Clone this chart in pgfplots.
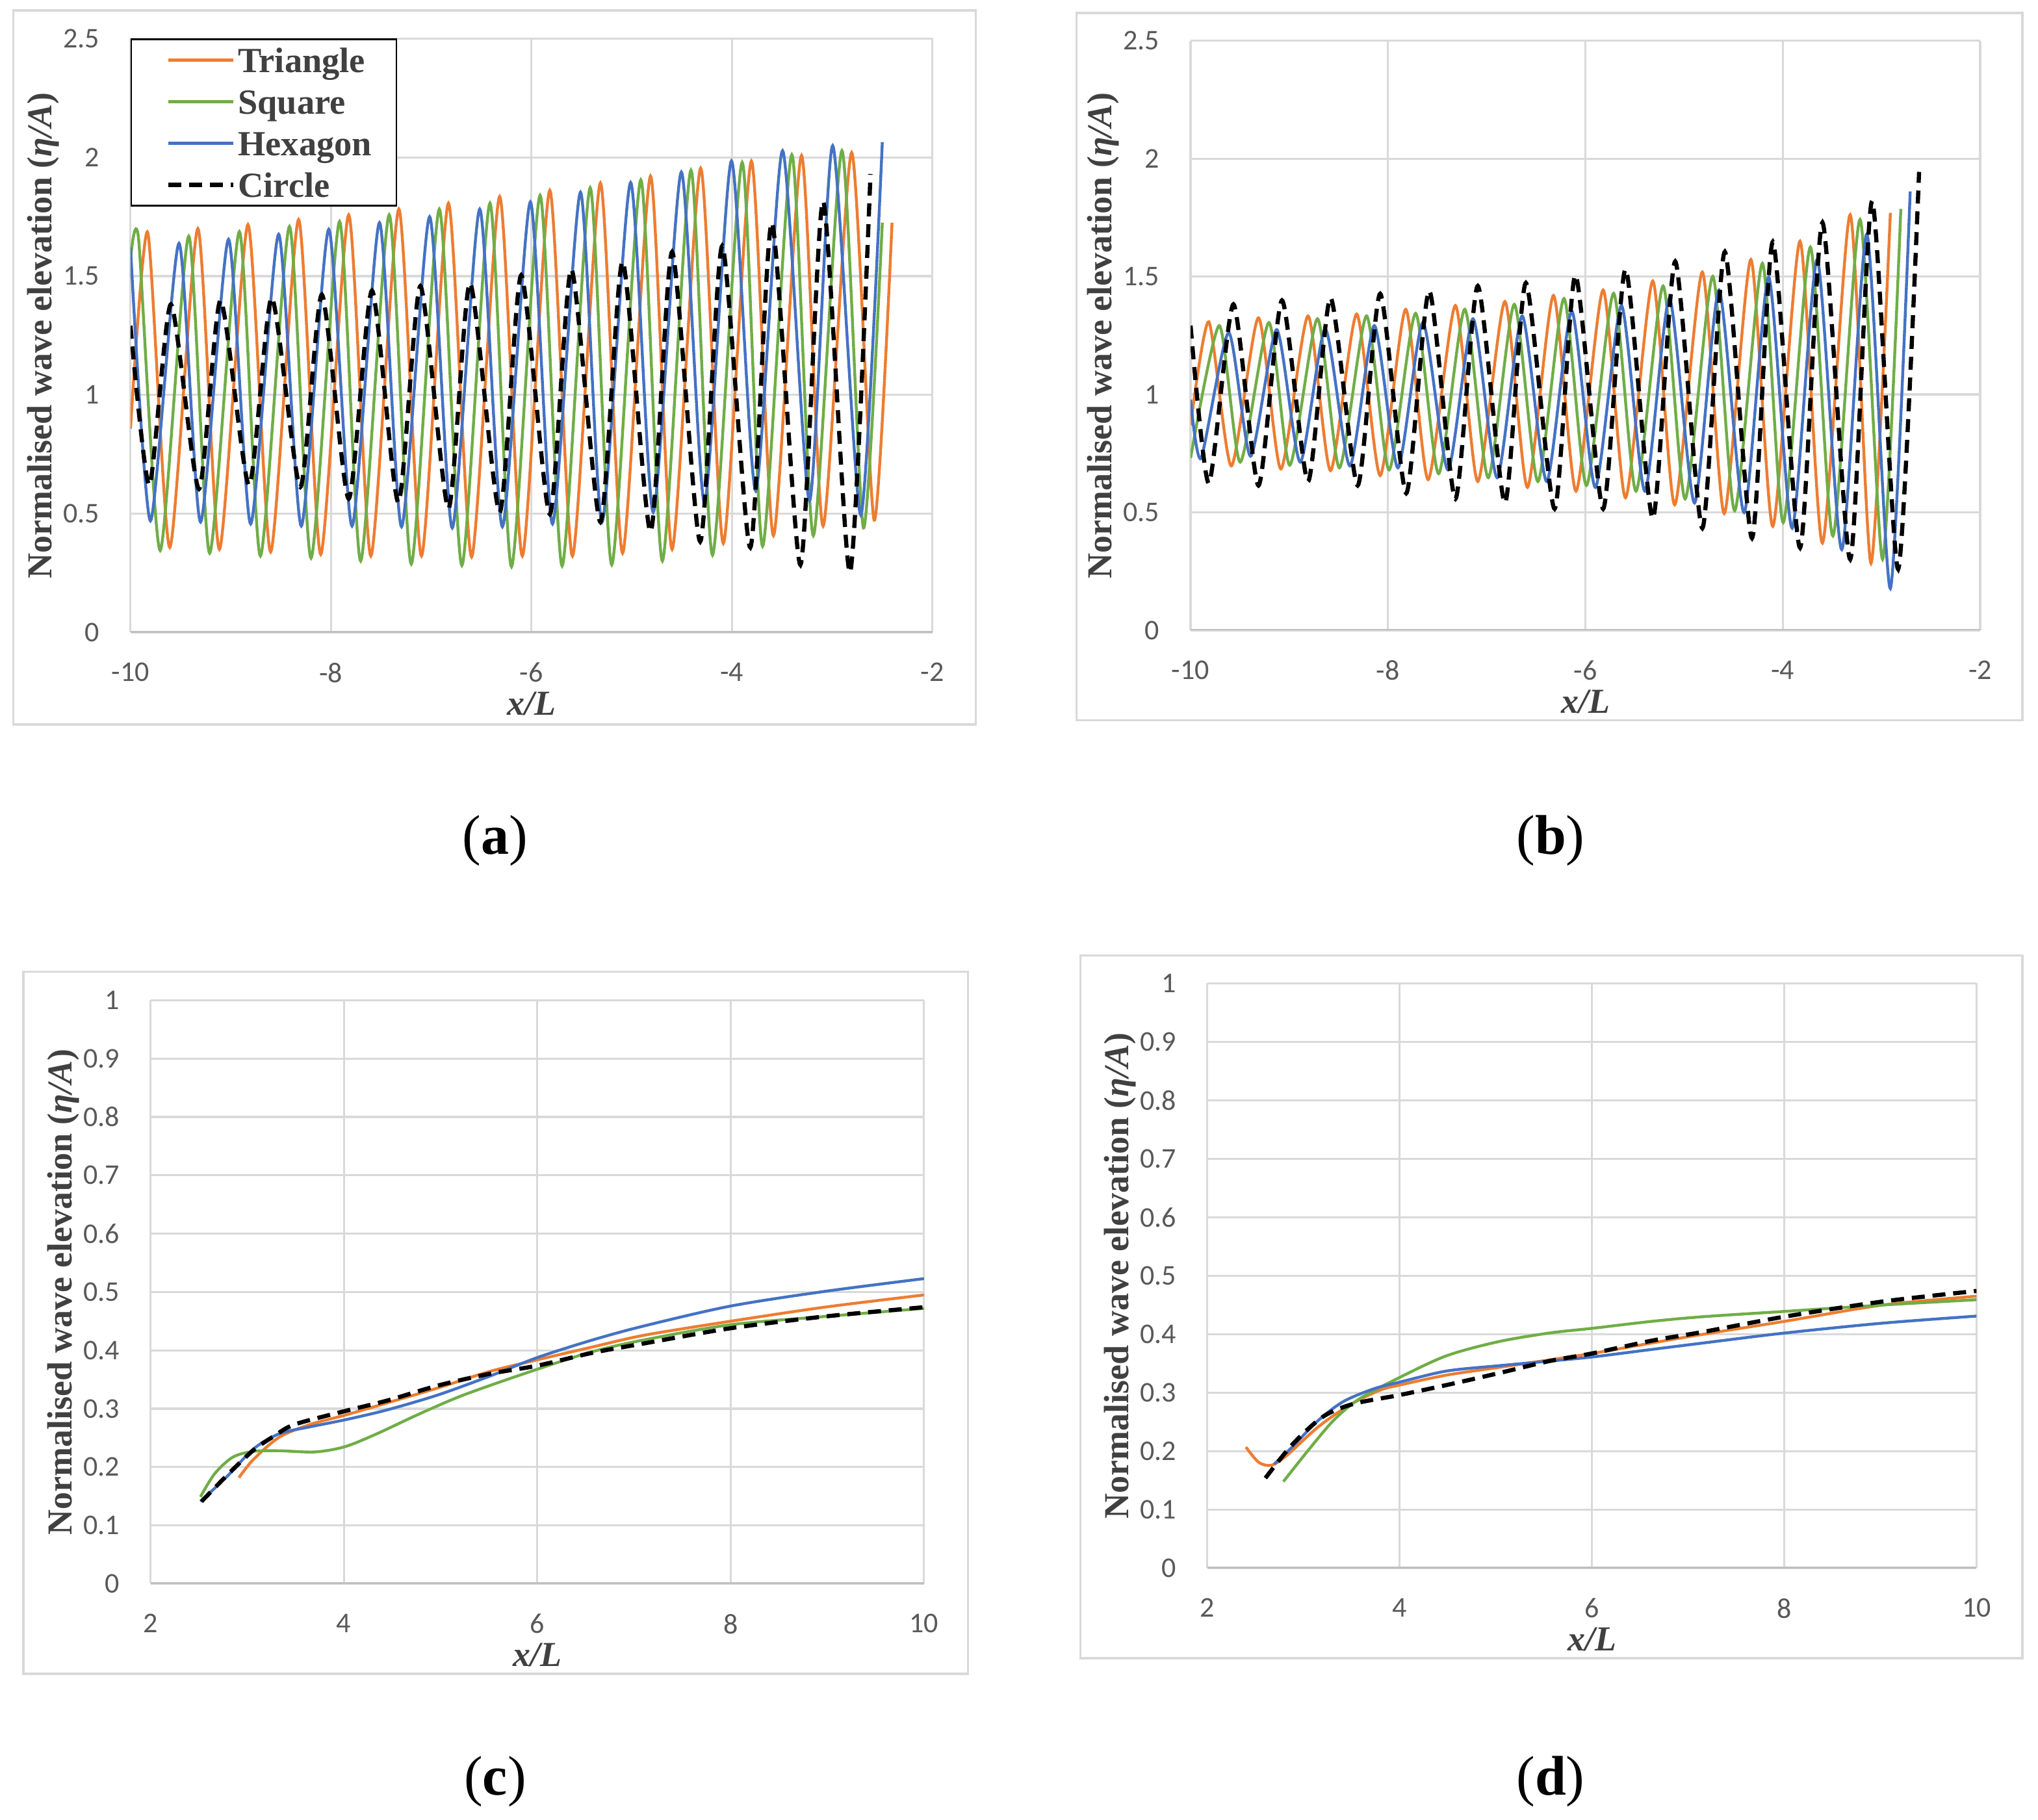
\documentclass[border=0pt]{standalone}
\usepackage{fontspec}
\setmainfont{Liberation Serif}
\newfontfamily\carlito{Carlito}
\usepackage{pgfplots}
\pgfplotsset{compat=1.18}
\definecolor{tri}{HTML}{ED7D31}
\definecolor{sq}{HTML}{70AD47}
\definecolor{hex}{HTML}{4472C4}
\definecolor{gridgray}{HTML}{D9D9D9}
\definecolor{axisgray}{HTML}{BFBFBF}
\definecolor{tickgray}{HTML}{595959}
\definecolor{labelgray}{HTML}{404040}
\pgfplotsset{
  panel/.style={
    scale only axis, anchor=south west, enlargelimits=false,
    grid=major, grid style={draw=gridgray, line width=0.8pt},
    axis line style={draw=none},
    major tick length=0pt,
    tick label style={font=\carlito\fontsize{11}{13}\selectfont, text=tickgray},
    xticklabel={\pgfmathprintnumber[assume math mode=true]{\tick}},
    yticklabel={\pgfmathprintnumber[assume math mode=true]{\tick}},
    yticklabel style={inner sep=0pt, anchor=east, xshift=-11.75pt},
    xticklabel style={inner sep=0pt, anchor=north, yshift=-11.5pt},
    xlabel={\textbf{\textit{x/L}}},
    ylabel={\textbf{Normalised wave elevation (\textit{η/A})}},
    label style={font=\fontsize{13.5}{15}\selectfont, text=labelgray},
    xlabel style={at={(axis description cs:0.5,0)}, anchor=north, inner sep=0pt, yshift=-22.75pt},
    ylabel style={at={(axis description cs:0,0.5)}, anchor=center, inner sep=0pt, yshift=33.5pt},
  },
  tris/.style={color=tri, line width=1.1pt, smooth},
  sqs/.style={color=sq, line width=1.1pt, smooth},
  hexs/.style={color=hex, line width=1.1pt, smooth},
  circs/.style={color=black, line width=1.6pt, dash pattern=on 5pt off 3pt, smooth},
}
\begin{document}
\begin{tikzpicture}
\path[use as bounding box] (0pt,0pt) rectangle (784pt,700.25pt);
% frames
\draw[gridgray, line width=0.85pt] (5.1pt,421.5pt) rectangle (375.35pt,696.25pt);
\draw[gridgray, line width=0.85pt] (414.15pt,423.15pt) rectangle (778pt,695.25pt);
\draw[gridgray, line width=0.85pt] (9pt,56.25pt) rectangle (372.35pt,326.35pt);
\draw[gridgray, line width=0.85pt] (415.65pt,62.25pt) rectangle (778pt,332.6pt);
% captions
\node[font=\fontsize{21.5}{24}\selectfont] at (190.5pt,376.75pt) {(\textbf{a})};
\node[font=\fontsize{21.5}{24}\selectfont] at (596.5pt,376.75pt) {(\textbf{b})};
\node[font=\fontsize{21.5}{24}\selectfont] at (190.5pt,14.75pt) {(\textbf{c})};
\node[font=\fontsize{21.5}{24}\selectfont] at (596.5pt,14.75pt) {(\textbf{d})};

% ---------------- (a)
\begin{axis}[panel, at={(50.2pt,456.9pt)}, width=308.5pt, height=228.5pt,
  xmin=-10, xmax=-2, ymin=0, ymax=2.5,
  xtick={-10,-8,-6,-4,-2}, ytick={0,0.5,1,1.5,2,2.5},
  legend cell align=left,
  legend style={at={(0,1)}, anchor=north west, draw=black, line width=0.65pt, fill=white,
    font=\bfseries\fontsize{13.6}{15}\selectfont, text=labelgray,
    inner xsep=8.5pt, inner ysep=0pt, row sep=0pt,
    nodes={inner xsep=1pt, inner ysep=1.75pt, text height=11pt, text depth=1.5pt}},
  legend image code/.code={\path (0pt,0pt); \draw[#1] (5pt,0pt) -- (30pt,0pt);},
  every axis plot/.append style={tension=0.4}]
\draw[axisgray, line width=1pt] (rel axis cs:0,0) -- (rel axis cs:1,0);
\addplot[tris] coordinates {(-10,0.858) (-9.828,1.684) (-9.608,0.358) (-9.328,1.700) (-9.113,0.350) (-8.828,1.717) (-8.602,0.339) (-8.323,1.738) (-8.102,0.329) (-7.823,1.758) (-7.602,0.322) (-7.323,1.782) (-7.097,0.322) (-6.828,1.807) (-6.597,0.318) (-6.317,1.835) (-6.091,0.322) (-5.817,1.861) (-5.591,0.322) (-5.312,1.892) (-5.091,0.334) (-4.812,1.921) (-4.597,0.350) (-4.312,1.954) (-4.086,0.375) (-3.806,1.984) (-3.586,0.408) (-3.306,2.008) (-3.091,0.448) (-2.806,2.020) (-2.581,0.473) (-2.403,1.725)};
\addlegendentry{Triangle}
\addplot[sqs] coordinates {(-10,1.57) (-9.919,1.655) (-9.704,0.345) (-9.419,1.668) (-9.210,0.334) (-8.914,1.687) (-8.704,0.322) (-8.414,1.709) (-8.199,0.313) (-7.914,1.730) (-7.704,0.301) (-7.419,1.758) (-7.199,0.288) (-6.919,1.782) (-6.694,0.282) (-6.414,1.807) (-6.199,0.277) (-5.914,1.840) (-5.694,0.280) (-5.414,1.872) (-5.199,0.285) (-4.909,1.905) (-4.694,0.301) (-4.409,1.946) (-4.194,0.326) (-3.898,1.979) (-3.694,0.363) (-3.403,2.011) (-3.188,0.408) (-2.903,2.028) (-2.688,0.440) (-2.500,1.725)};
\addlegendentry{Square}
\addplot[hexs] coordinates {(-10,1.62) (-9.801,0.470) (-9.516,1.638) (-9.301,0.465) (-9.022,1.655) (-8.801,0.457) (-8.522,1.676) (-8.296,0.448) (-8.022,1.697) (-7.790,0.448) (-7.516,1.725) (-7.296,0.445) (-7.016,1.750) (-6.790,0.440) (-6.516,1.782) (-6.290,0.445) (-6.011,1.812) (-5.790,0.457) (-5.511,1.853) (-5.296,0.465) (-5.011,1.894) (-4.785,0.506) (-4.505,1.938) (-4.274,0.547) (-4.005,1.985) (-3.763,0.596) (-3.495,2.028) (-3.226,0.555) (-2.995,2.049) (-2.715,0.494) (-2.500,2.064)};
\addlegendentry{Hexagon}
\addplot[circs] coordinates {(-10,1.291) (-9.812,0.620) (-9.597,1.381) (-9.317,0.604) (-9.102,1.398) (-8.817,0.620) (-8.591,1.409) (-8.306,0.612) (-8.091,1.422) (-7.823,0.563) (-7.591,1.439) (-7.328,0.547) (-7.108,1.458) (-6.828,0.522) (-6.613,1.471) (-6.317,0.506) (-6.102,1.504) (-5.817,0.498) (-5.602,1.529) (-5.312,0.465) (-5.091,1.561) (-4.812,0.424) (-4.597,1.602) (-4.317,0.383) (-4.097,1.627) (-3.817,0.358) (-3.602,1.725) (-3.317,0.285) (-3.091,1.815) (-2.823,0.252) (-2.618,1.930)};
\addlegendentry{Circle}
\end{axis}

% ---------------- (b)
\begin{axis}[panel, at={(458pt,457.75pt)}, width=303.75pt, height=226.8pt,
  xmin=-10, xmax=-2, ymin=0, ymax=2.5,
  xtick={-10,-8,-6,-4,-2}, ytick={0,0.5,1,1.5,2,2.5},
  every axis plot/.append style={tension=0.4}]
\draw[axisgray, line width=1pt] (rel axis cs:0,0) -- (rel axis cs:1,0);
\addplot[tris] coordinates {(-10,0.870) (-9.815,1.308) (-9.587,0.697) (-9.312,1.325) (-9.085,0.684) (-8.810,1.333) (-8.582,0.677) (-8.317,1.341) (-8.079,0.656) (-7.820,1.361) (-7.593,0.639) (-7.317,1.377) (-7.090,0.631) (-6.815,1.394) (-6.587,0.606) (-6.323,1.420) (-6.095,0.590) (-5.820,1.443) (-5.593,0.562) (-5.317,1.481) (-5.095,0.532) (-4.815,1.519) (-4.593,0.495) (-4.323,1.572) (-4.101,0.441) (-3.825,1.650) (-3.598,0.370) (-3.317,1.762) (-3.106,0.284) (-2.910,1.770)};
\addplot[sqs] coordinates {(-10,0.730) (-9.709,1.292) (-9.497,0.713) (-9.206,1.305) (-8.995,0.700) (-8.714,1.321) (-8.492,0.689) (-8.217,1.333) (-7.989,0.680) (-7.720,1.344) (-7.487,0.664) (-7.222,1.361) (-6.984,0.647) (-6.720,1.382) (-6.481,0.631) (-6.217,1.407) (-5.989,0.614) (-5.714,1.429) (-5.487,0.590) (-5.212,1.460) (-4.989,0.557) (-4.709,1.501) (-4.487,0.507) (-4.206,1.556) (-3.995,0.457) (-3.720,1.625) (-3.492,0.400) (-3.217,1.742) (-2.989,0.301) (-2.804,1.787)};
\addplot[hexs] coordinates {(-10,0.978) (-9.894,0.730) (-9.614,1.262) (-9.392,0.738) (-9.127,1.275) (-8.889,0.713) (-8.635,1.278) (-8.386,0.697) (-8.138,1.292) (-7.899,0.689) (-7.646,1.305) (-7.392,0.680) (-7.138,1.321) (-6.894,0.647) (-6.640,1.333) (-6.392,0.631) (-6.138,1.353) (-5.899,0.606) (-5.635,1.377) (-5.397,0.590) (-5.148,1.407) (-4.894,0.540) (-4.646,1.443) (-4.392,0.499) (-4.143,1.498) (-3.905,0.433) (-3.651,1.572) (-3.402,0.342) (-3.148,1.680) (-2.910,0.177) (-2.709,1.861)};
\addplot[circs] coordinates {(-10,1.292) (-9.815,0.623) (-9.566,1.382) (-9.312,0.614) (-9.074,1.399) (-8.810,0.631) (-8.582,1.410) (-8.307,0.614) (-8.079,1.427) (-7.815,0.581) (-7.582,1.440) (-7.317,0.557) (-7.090,1.460) (-6.815,0.540) (-6.603,1.473) (-6.312,0.515) (-6.101,1.506) (-5.820,0.515) (-5.593,1.531) (-5.317,0.474) (-5.090,1.564) (-4.815,0.433) (-4.587,1.605) (-4.312,0.391) (-4.101,1.647) (-3.825,0.350) (-3.598,1.729) (-3.317,0.301) (-3.095,1.820) (-2.831,0.259) (-2.619,1.944)};
\end{axis}

% ---------------- (c)
\begin{axis}[panel, at={(57.9pt,90.875pt)}, width=297.55pt, height=224.5pt,
  xmin=2, xmax=10, ymin=0, ymax=1,
  xtick={2,4,6,8,10}, ytick={0,0.1,0.2,0.3,0.4,0.5,0.6,0.7,0.8,0.9,1}]
\draw[axisgray, line width=1pt] (rel axis cs:0,0) -- (rel axis cs:1,0);
\addplot[tris] coordinates {(2.915,0.182) (3.064,0.213) (3.330,0.251) (3.649,0.273) (4.011,0.289) (4.447,0.310) (4.979,0.336) (5.511,0.364) (6.005,0.384) (6.574,0.406) (7.106,0.426) (8.0,0.450) (8.968,0.474) (10,0.495)};
\addplot[sqs] coordinates {(2.516,0.149) (2.665,0.189) (2.851,0.217) (3.064,0.227) (3.330,0.228) (3.702,0.226) (4.011,0.235) (4.340,0.257) (4.766,0.290) (5.245,0.324) (6.005,0.368) (6.574,0.398) (7.106,0.418) (8.0,0.444) (8.968,0.458) (10,0.472)};
\addplot[hexs] coordinates {(2.516,0.141) (2.798,0.185) (3.064,0.231) (3.330,0.257) (3.649,0.269) (4.011,0.281) (4.447,0.298) (4.979,0.324) (5.511,0.356) (6.005,0.388) (6.574,0.418) (7.106,0.442) (8.0,0.476) (8.968,0.501) (10,0.523)};
\addplot[circs] coordinates {(2.527,0.141) (2.798,0.187) (3.064,0.229) (3.277,0.253) (3.489,0.273) (4.011,0.296) (4.447,0.314) (4.979,0.340) (5.511,0.360) (6.005,0.374) (6.574,0.396) (7.106,0.412) (8.0,0.438) (8.968,0.458) (10,0.474)};
\end{axis}

% ---------------- (d)
\begin{axis}[panel, at={(464.45pt,96.9pt)}, width=295.9pt, height=225pt,
  xmin=2, xmax=10, ymin=0, ymax=1,
  xtick={2,4,6,8,10}, ytick={0,0.1,0.2,0.3,0.4,0.5,0.6,0.7,0.8,0.9,1}]
\draw[axisgray, line width=1pt] (rel axis cs:0,0) -- (rel axis cs:1,0);
\addplot[tris] coordinates {(2.401,0.207) (2.534,0.181) (2.668,0.176) (2.828,0.193) (3.149,0.241) (3.470,0.278) (3.790,0.304) (3.999,0.313) (4.485,0.330) (5.020,0.343) (5.554,0.356) (5.998,0.367) (6.623,0.385) (7.158,0.400) (8.002,0.422) (9.028,0.450) (10,0.465)};
\addplot[sqs] coordinates {(2.791,0.148) (3.042,0.200) (3.309,0.252) (3.577,0.289) (3.999,0.326) (4.485,0.363) (5.020,0.387) (5.554,0.402) (5.998,0.410) (6.623,0.422) (7.158,0.430) (8.002,0.439) (9.028,0.450) (10,0.459)};
\addplot[hexs] coordinates {(2.695,0.178) (2.882,0.207) (3.149,0.252) (3.416,0.285) (3.737,0.307) (3.999,0.318) (4.485,0.337) (5.020,0.346) (5.554,0.354) (5.998,0.361) (6.623,0.374) (7.158,0.385) (8.002,0.402) (9.028,0.419) (10,0.431)};
\addplot[circs] coordinates {(2.604,0.154) (2.882,0.211) (3.203,0.259) (3.523,0.281) (3.999,0.296) (4.485,0.313) (5.020,0.333) (5.554,0.354) (5.998,0.367) (6.623,0.389) (7.158,0.404) (8.002,0.430) (9.028,0.456) (10,0.474)};
\end{axis}
\end{tikzpicture}
\end{document}
